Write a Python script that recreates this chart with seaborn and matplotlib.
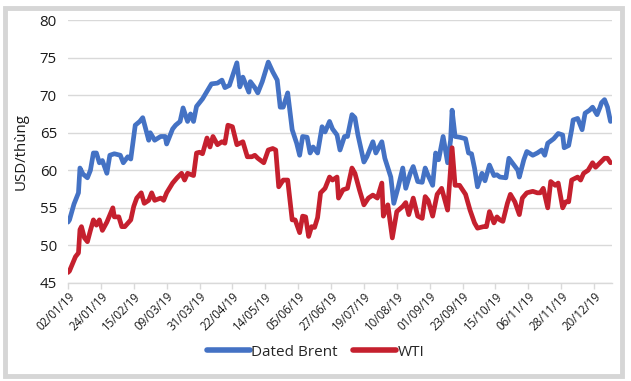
import numpy as np
import pandas as pd
import matplotlib
matplotlib.use("Agg")
import matplotlib.pyplot as plt
import matplotlib.dates as mdates
from matplotlib.patches import Rectangle
from matplotlib.lines import Line2D
import seaborn as sns

brent_dates = [
    "2019-01-02", "2019-01-03", "2019-01-06", "2019-01-09", "2019-01-10", "2019-01-12",
    "2019-01-15", "2019-01-17", "2019-01-19", "2019-01-21", "2019-01-23", "2019-01-25",
    "2019-01-28", "2019-01-30", "2019-02-02", "2019-02-06", "2019-02-08", "2019-02-11",
    "2019-02-13", "2019-02-16", "2019-02-19", "2019-02-21", "2019-02-25", "2019-02-26",
    "2019-03-01", "2019-03-05", "2019-03-08", "2019-03-09", "2019-03-13", "2019-03-15",
    "2019-03-18", "2019-03-20", "2019-03-23", "2019-03-25", "2019-03-27", "2019-03-29",
    "2019-04-02", "2019-04-05", "2019-04-08", "2019-04-12", "2019-04-15", "2019-04-17",
    "2019-04-20", "2019-04-25", "2019-04-27", "2019-04-29", "2019-05-03", "2019-05-04",
    "2019-05-07", "2019-05-09", "2019-05-12", "2019-05-16", "2019-05-19", "2019-05-22",
    "2019-05-24", "2019-05-26", "2019-05-29", "2019-06-01", "2019-06-04", "2019-06-06",
    "2019-06-08", "2019-06-11", "2019-06-13", "2019-06-15", "2019-06-18", "2019-06-21",
    "2019-06-23", "2019-06-26", "2019-06-28", "2019-07-01", "2019-07-03", "2019-07-06",
    "2019-07-08", "2019-07-11", "2019-07-13", "2019-07-15", "2019-07-19", "2019-07-21",
    "2019-07-25", "2019-07-27", "2019-07-31", "2019-08-02", "2019-08-06", "2019-08-08",
    "2019-08-11", "2019-08-14", "2019-08-16", "2019-08-19", "2019-08-21", "2019-08-24",
    "2019-08-27", "2019-08-29", "2019-08-31", "2019-09-03", "2019-09-05", "2019-09-07",
    "2019-09-10", "2019-09-13", "2019-09-15", "2019-09-16", "2019-09-18", "2019-09-21",
    "2019-09-25", "2019-09-27", "2019-09-29", "2019-10-01", "2019-10-03", "2019-10-06",
    "2019-10-08", "2019-10-11", "2019-10-14", "2019-10-16", "2019-10-18", "2019-10-22",
    "2019-10-24", "2019-10-27", "2019-10-30", "2019-10-31", "2019-11-03", "2019-11-05",
    "2019-11-09", "2019-11-12", "2019-11-15", "2019-11-17", "2019-11-19", "2019-11-23",
    "2019-11-26", "2019-11-29", "2019-11-30", "2019-12-03", "2019-12-05", "2019-12-06",
    "2019-12-09", "2019-12-12", "2019-12-14", "2019-12-17", "2019-12-19", "2019-12-22",
    "2019-12-24", "2019-12-25", "2019-12-27", "2019-12-29", "2019-12-31",
]
brent_values = [
    53.1, 53.4, 55.5, 57.0, 60.3, 59.5,
    59.0, 60.0, 62.3, 62.3, 61.0, 61.3,
    59.6, 62.0, 62.2, 62.0, 61.0, 61.8,
    61.5, 66.0, 66.5, 67.0, 64.0, 65.0,
    64.0, 64.5, 64.5, 63.5, 65.5, 66.0,
    66.5, 68.3, 66.5, 67.5, 66.5, 68.5,
    69.5, 70.5, 71.5, 71.6, 72.0, 71.0,
    71.3, 74.3, 71.1, 72.4, 70.4, 71.8,
    71.0, 70.3, 71.8, 74.4, 73.1, 72.0,
    68.4, 68.4, 70.3, 65.4, 63.6, 62.0,
    64.5, 64.4, 62.3, 63.1, 62.3, 65.8,
    65.1, 66.5, 65.5, 64.7, 62.7, 64.5,
    64.5, 67.4, 67.0, 64.7, 61.1, 61.8,
    63.8, 62.3, 63.8, 61.6, 59.1, 55.6,
    57.8, 60.3, 57.6, 59.6, 60.5, 58.5,
    58.4, 60.3, 59.3, 58.0, 62.3, 61.4,
    64.5, 61.0, 64.0, 68.0, 64.5, 64.4,
    64.2, 62.3, 62.2, 60.3, 57.8, 59.6,
    58.6, 60.7, 59.3, 59.4, 59.1, 59.0,
    61.6, 60.8, 60.0, 59.1, 61.4, 62.5,
    62.0, 62.3, 62.7, 62.0, 63.6, 64.2,
    64.9, 64.7, 63.0, 63.3, 65.4, 66.7,
    66.9, 65.4, 67.6, 68.0, 68.4, 67.4,
    68.4, 69.0, 69.4, 68.4, 66.5,
]

wti_dates = [
    "2019-01-02", "2019-01-03", "2019-01-07", "2019-01-09", "2019-01-10", "2019-01-11",
    "2019-01-13", "2019-01-15", "2019-01-17", "2019-01-19", "2019-01-21", "2019-01-23",
    "2019-01-25", "2019-01-28", "2019-02-01", "2019-02-02", "2019-02-05", "2019-02-07",
    "2019-02-09", "2019-02-13", "2019-02-15", "2019-02-17", "2019-02-20", "2019-02-22",
    "2019-02-25", "2019-02-27", "2019-03-01", "2019-03-05", "2019-03-07", "2019-03-09",
    "2019-03-13", "2019-03-16", "2019-03-19", "2019-03-21", "2019-03-23", "2019-03-27",
    "2019-03-29", "2019-03-31", "2019-04-02", "2019-04-05", "2019-04-07", "2019-04-09",
    "2019-04-12", "2019-04-15", "2019-04-17", "2019-04-19", "2019-04-22", "2019-04-25",
    "2019-04-27", "2019-04-29", "2019-05-02", "2019-05-05", "2019-05-07", "2019-05-09",
    "2019-05-13", "2019-05-16", "2019-05-19", "2019-05-21", "2019-05-23", "2019-05-26",
    "2019-05-29", "2019-06-01", "2019-06-03", "2019-06-06", "2019-06-08", "2019-06-10",
    "2019-06-12", "2019-06-14", "2019-06-16", "2019-06-18", "2019-06-20", "2019-06-23",
    "2019-06-26", "2019-06-28", "2019-07-01", "2019-07-02", "2019-07-05", "2019-07-08",
    "2019-07-11", "2019-07-13", "2019-07-16", "2019-07-19", "2019-07-22", "2019-07-25",
    "2019-07-28", "2019-07-31", "2019-08-01", "2019-08-04", "2019-08-07", "2019-08-10",
    "2019-08-14", "2019-08-16", "2019-08-18", "2019-08-21", "2019-08-24", "2019-08-27",
    "2019-08-29", "2019-08-31", "2019-09-03", "2019-09-06", "2019-09-09", "2019-09-13",
    "2019-09-16", "2019-09-18", "2019-09-21", "2019-09-25", "2019-09-28", "2019-10-01",
    "2019-10-03", "2019-10-07", "2019-10-09", "2019-10-11", "2019-10-14", "2019-10-16",
    "2019-10-18", "2019-10-20", "2019-10-23", "2019-10-25", "2019-10-28", "2019-10-31",
    "2019-11-02", "2019-11-05", "2019-11-09", "2019-11-12", "2019-11-14", "2019-11-16",
    "2019-11-19", "2019-11-21", "2019-11-24", "2019-11-26", "2019-11-29", "2019-12-01",
    "2019-12-03", "2019-12-05", "2019-12-09", "2019-12-11", "2019-12-13", "2019-12-16",
    "2019-12-19", "2019-12-21", "2019-12-24", "2019-12-27", "2019-12-29", "2019-12-31",
]
wti_values = [
    46.4, 46.6, 48.5, 49.0, 52.1, 52.5,
    51.0, 50.5, 52.0, 53.4, 52.7, 53.4,
    52.0, 53.1, 55.0, 53.8, 53.8, 52.5,
    52.5, 53.4, 55.2, 56.3, 57.0, 55.6,
    56.0, 57.0, 56.0, 56.3, 56.0, 57.0,
    58.3, 59.0, 59.6, 58.7, 59.6, 59.3,
    62.3, 62.4, 62.2, 64.3, 63.1, 64.5,
    63.4, 63.8, 63.6, 66.0, 65.8, 63.4,
    63.6, 63.8, 61.8, 61.8, 62.0, 61.6,
    61.0, 62.7, 62.9, 62.7, 57.8, 58.7,
    58.7, 53.4, 53.4, 51.7, 53.9, 53.8,
    51.2, 52.5, 52.4, 53.7, 57.0, 57.6,
    59.1, 58.7, 59.1, 56.3, 57.4, 57.6,
    60.3, 59.6, 57.4, 55.4, 56.3, 56.7,
    56.3, 58.3, 53.9, 55.4, 51.0, 54.5,
    55.2, 55.7, 54.1, 56.3, 53.9, 53.6,
    56.5, 56.0, 53.9, 56.8, 57.6, 54.7,
    63.0, 58.0, 58.0, 56.8, 54.7, 53.0,
    52.3, 52.5, 52.5, 54.5, 53.0, 53.8,
    53.4, 53.2, 55.6, 56.8, 55.8, 54.1,
    56.3, 57.0, 57.2, 57.0, 57.0, 57.6,
    55.0, 58.5, 58.0, 58.3, 55.0, 55.8,
    55.8, 58.7, 59.1, 58.7, 59.6, 60.0,
    61.0, 60.4, 61.0, 61.6, 61.6, 61.0,
]

series_names = ["Dated Brent", "WTI"]
colors = ["#4472C4", "#C5202E"]
tick_start = "2019-01-02"
tick_step_days = 22
tick_count = 17

df = pd.concat([
    pd.DataFrame({"date": pd.to_datetime(brent_dates), "price": brent_values, "series": series_names[0]}),
    pd.DataFrame({"date": pd.to_datetime(wti_dates), "price": wti_values, "series": series_names[1]}),
], ignore_index=True)

sns.set_theme(style="white")
plt.rcParams["font.family"] = ["Open Sans", "DejaVu Sans"]

fig = plt.figure(figsize=(6.31, 3.81), dpi=100)
ax = fig.add_axes([68/631, 1-283/381, (612-68)/631, (283-20)/381])

sns.lineplot(data=df, x="date", y="price", hue="series", palette=colors,
             linewidth=3.4, ax=ax, legend=False, solid_joinstyle="round")

ax.set_ylim(45, 80)
ax.set_yticks(np.arange(45, 81, 5))
ax.set_xlim(pd.Timestamp("2019-01-02"), pd.Timestamp("2020-01-01"))
ticks = pd.date_range(tick_start, periods=tick_count, freq=f"{tick_step_days}D")
ax.set_xticks(ticks)
ax.xaxis.set_major_formatter(mdates.DateFormatter("%d/%m/%y"))
ax.grid(axis="y", color="#D9D9D9", linewidth=1.0)
ax.set_axisbelow(True)
for s in ["top", "right", "left"]:
    ax.spines[s].set_visible(False)
ax.spines["bottom"].set_color("#D9D9D9")
ax.spines["bottom"].set_linewidth(1.0)
ax.tick_params(axis="x", direction="out", length=4, color="#D9D9D9", width=1,
               labelsize=8.3, pad=1, labelcolor="#1a1a1a", bottom=True)
ax.tick_params(axis="y", length=0, labelsize=10.8, pad=8, labelcolor="#1a1a1a")
for lab in ax.get_xticklabels():
    lab.set_rotation(45)
    lab.set_ha("right")
    lab.set_rotation_mode("anchor")
ax.set_xlabel("")
ax.set_ylabel("USD/thùng", fontsize=10.8, color="#1a1a1a", labelpad=8)

handles = [Line2D([0], [0], color=c, linewidth=4) for c in colors]
fig.legend(handles, series_names, loc="center", bbox_to_anchor=(0.5, 1-352/381),
           ncol=2, frameon=False, fontsize=11, handlelength=2.8, handletextpad=0.1,
           columnspacing=1.0)

fig.patches.append(Rectangle((5/631, 5/381), 617/631, 368/381, transform=fig.transFigure,
                             fill=False, edgecolor="#D6D6D6", linewidth=3.5))

fig.savefig("out.png", dpi=100)
